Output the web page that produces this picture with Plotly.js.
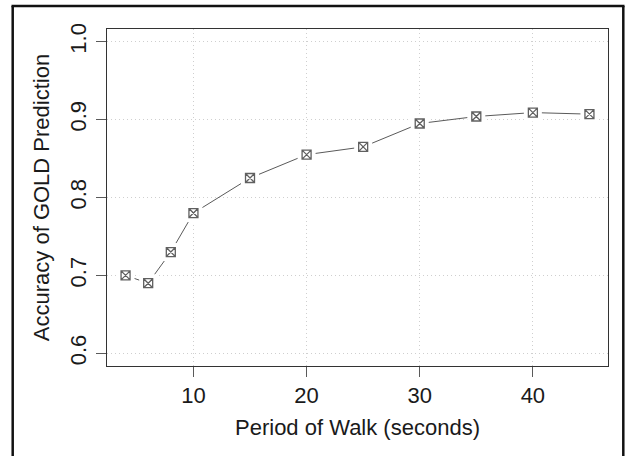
<!DOCTYPE html>
<html>
<head>
<meta charset="utf-8">
<script src="https://cdn.plot.ly/plotly-3.0.1.min.js"></script>
<style>html,body{margin:0;padding:0;background:#fff;}#chart{width:633px;height:456px;}</style>
</head>
<body>
<div id="chart"></div>
<script>
// Data
var periodSeconds = [4, 6, 8, 10, 15, 20, 25, 30, 35, 40, 45];
var accuracy = [0.70, 0.69, 0.73, 0.78, 0.825, 0.855, 0.865, 0.895, 0.904, 0.909, 0.907];
var xTickVals = [10, 20, 30, 40];
var yTickVals = [0.6, 0.7, 0.8, 0.9, 1.0];
var yTickText = ["0.6", "0.7", "0.8", "0.9", "1.0"];
var xTitle = "Period of Walk (seconds)";
var yTitle = "Accuracy of GOLD Prediction";

var W = 633, H = 456;
var M = {l: 107, r: 25, t: 29, b: 90};
var pw = W - M.l - M.r, ph = H - M.t - M.b;
function px(x) { return (x - M.l) / pw; }
function py(y) { return (H - M.b - y) / ph; }

var font = "Liberation Sans, Arial, Helvetica, sans-serif";
var grey = "#5a5a5a";
var txt = "#1a1a1a";
var fs = 22;

var traces = [
  {x: periodSeconds, y: accuracy, mode: "lines", type: "scatter",
   line: {color: grey, width: 1}, hoverinfo: "skip", showlegend: false},
  {x: periodSeconds, y: accuracy, mode: "markers", type: "scatter",
   marker: {symbol: "square", size: 18, color: "#ffffff", line: {width: 0}},
   hoverinfo: "skip", showlegend: false},
  {x: periodSeconds, y: accuracy, mode: "markers", type: "scatter",
   marker: {symbol: "square-x-open", size: 9, color: "#606060", line: {width: 1.3, color: "#606060"}},
   showlegend: false}
];

var frameColor = "#111111";
var gridDash = "1px,3px";
var gridColor = "#cfcfcf";
var layout = {
  width: W, height: H,
  margin: M,
  paper_bgcolor: "#ffffff", plot_bgcolor: "#ffffff",
  font: {family: font, size: fs, color: txt},
  showlegend: false,
  xaxis: {
    range: [2.36, 46.64], tickvals: xTickVals, ticks: "outside", ticklen: 10,
    tickwidth: 1, tickcolor: grey, showgrid: true, gridcolor: gridColor, griddash: gridDash,
    gridwidth: 1, zeroline: false, showline: true, linecolor: "#333333", linewidth: 1,
    mirror: true, tickfont: {family: font, size: fs, color: txt},
    title: {text: xTitle, font: {family: font, size: fs, color: txt}, standoff: 12}
  },
  yaxis: {
    range: [0.5837, 1.0163], tickvals: yTickVals, ticktext: yTickText, ticks: "outside",
    ticklen: 10, tickwidth: 1, tickcolor: grey, tickangle: -90, ticklabelstandoff: 1,
    showgrid: true, gridcolor: gridColor, griddash: gridDash, gridwidth: 1,
    zeroline: false, showline: true, linecolor: "#333333", linewidth: 1, mirror: true,
    tickfont: {family: font, size: fs, color: txt},
    title: {text: yTitle, font: {family: font, size: fs, color: txt}, standoff: 10}
  },
  shapes: [
    {type: "line", xref: "paper", yref: "paper", x0: px(12.7), x1: px(12.7), y0: py(6), y1: py(470),
     line: {color: frameColor, width: 2.5}},
    {type: "line", xref: "paper", yref: "paper", x0: px(11.5), x1: px(624.5), y0: py(6), y1: py(6),
     line: {color: frameColor, width: 2.5}},
    {type: "line", xref: "paper", yref: "paper", x0: px(623.3), x1: px(623.3), y0: py(6), y1: py(470),
     line: {color: frameColor, width: 2.5}}
  ]
};

Plotly.newPlot("chart", traces, layout, {displayModeBar: false, staticPlot: true});
</script>
</body>
</html>
